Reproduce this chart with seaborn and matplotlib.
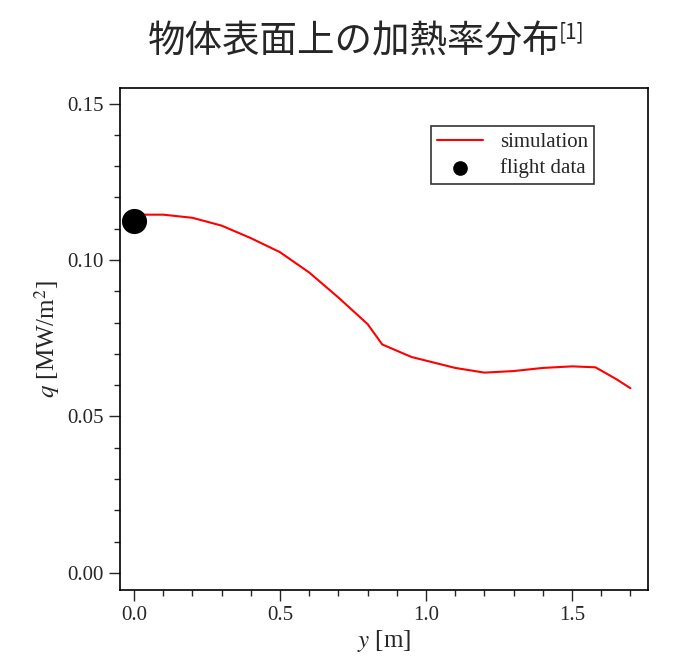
"""Heat-rate distribution on body surface"""

import matplotlib.pyplot as plt
import seaborn as sns
from matplotlib.ticker import MultipleLocator

sim_y = [0.0, 0.1, 0.2, 0.3, 0.4, 0.5, 0.6, 0.7, 0.8, 0.85, 0.95, 1.1, 1.2, 1.3, 1.4, 1.5, 1.58, 1.65, 1.7]
sim_q = [0.1145, 0.1145, 0.1135, 0.111, 0.107, 0.1025, 0.096, 0.088, 0.0795, 0.073, 0.069, 0.0655,
         0.064, 0.0645, 0.0655, 0.066, 0.0657, 0.062, 0.059]
flight_y = [0.0]
flight_q = [0.1125]

sns.set_style("white")
plt.rcParams["font.family"] = "Liberation Serif"
plt.rcParams["mathtext.fontset"] = "stix"

fig = plt.figure(figsize=(6.88, 6.71), dpi=100)
ax = fig.add_axes([120 / 688, 81 / 671, 528 / 688, 502 / 671])

sns.lineplot(x=sim_y, y=sim_q, color="red", lw=1.5, ax=ax, label="simulation")
sns.scatterplot(x=flight_y, y=flight_q, color="black", s=280, ax=ax, label="flight data",
                zorder=5, edgecolor="black")

ax.set_xlim(-0.048, 1.76)
ax.set_ylim(-0.0055, 0.155)
ax.xaxis.set_major_locator(MultipleLocator(0.5))
ax.xaxis.set_minor_locator(MultipleLocator(0.1))
ax.yaxis.set_major_locator(MultipleLocator(0.05))
ax.yaxis.set_minor_locator(MultipleLocator(0.01))
ax.xaxis.set_major_formatter(plt.FormatStrFormatter("%.1f"))
ax.yaxis.set_major_formatter(plt.FormatStrFormatter("%.2f"))
ax.tick_params(which="major", direction="out", length=8, width=1, labelsize=15,
               bottom=True, left=True)
ax.tick_params(which="minor", direction="out", length=4, width=1, bottom=True, left=True)
for s in ax.spines.values():
    s.set_linewidth(1.2)
    s.set_color("black")

ax.set_xlabel(r"$\it{y}$ [m]", fontsize=18, labelpad=2)
ax.set_ylabel(r"$\it{q}$ [MW/m$^2$]", fontsize=18)

leg = ax.legend(loc="upper right", bbox_to_anchor=(0.918, 0.945), fontsize=15, frameon=True,
                fancybox=False, edgecolor="black", handlelength=2.2, borderpad=0.3,
                markerscale=0.55, labelspacing=0.3)
leg.get_frame().set_linewidth(1.2)

fig.text(0.515, 0.937, "物体表面上の加熱率分布", fontsize=27, ha="center", va="center",
         family="Noto Sans CJK JP")
fig.text(0.812, 0.952, "[1]", fontsize=15, ha="left", va="center", family="Noto Sans CJK JP")

plt.savefig("out.png", dpi=100)
